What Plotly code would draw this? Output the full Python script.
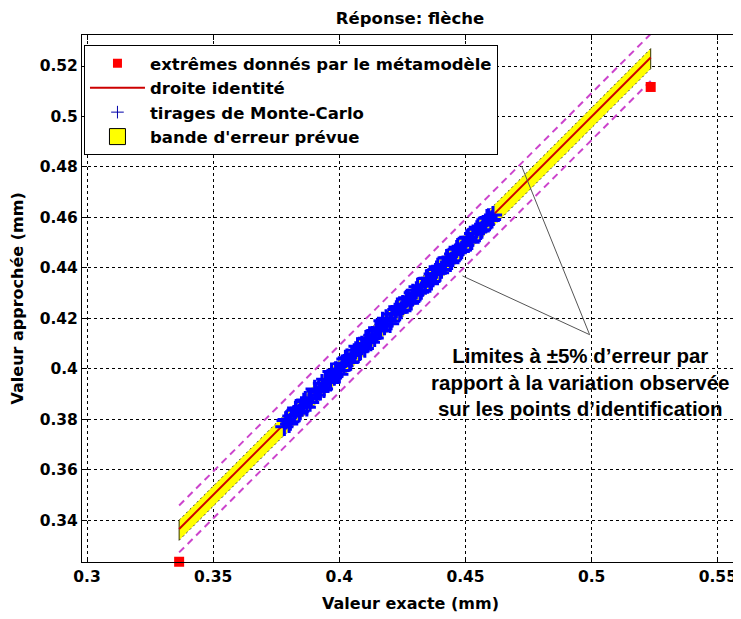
import plotly.graph_objects as go

# ---- data ----
extreme_x = [0.3365, 0.5234]
extreme_y = [0.3235, 0.5117]

ident_x = [0.3365, 0.5234]
ident_y = [0.3365, 0.5234]

band_x = [0.3365, 0.5234]
band_lo = [0.3320, 0.5189]
band_hi = [0.3400, 0.5269]

lim_x = [0.3365, 0.5234]
lim_lo = [0.3272, 0.5141]
lim_hi = [0.3458, 0.5327]

mc_x = [0.3782, 0.3791, 0.3801, 0.3810, 0.3822, 0.3829, 0.3841, 0.3850, 0.3859, 0.3871,
        0.3880, 0.3889, 0.3902, 0.3910, 0.3918, 0.3931, 0.3939, 0.3950, 0.3961, 0.3969,
        0.3980, 0.3992, 0.4000, 0.4011, 0.4019, 0.4030, 0.4041, 0.4049, 0.4060, 0.4072,
        0.4080, 0.4089, 0.4101, 0.4110, 0.4119, 0.4131, 0.4140, 0.4150, 0.4158, 0.4171,
        0.4179, 0.4190, 0.4201, 0.4209, 0.4221, 0.4230, 0.4239, 0.4251, 0.4260, 0.4269,
        0.4280, 0.4291, 0.4300, 0.4310, 0.4320, 0.4329, 0.4341, 0.4350, 0.4359, 0.4370,
        0.4381, 0.4390, 0.4399, 0.4411, 0.4420, 0.4429, 0.4440, 0.4451, 0.4460, 0.4469,
        0.4481, 0.4490, 0.4499, 0.4511, 0.4520, 0.4530, 0.4541, 0.4549, 0.4560, 0.4570,
        0.4580, 0.4591, 0.4600, 0.4609,
        0.3787, 0.3806, 0.3826, 0.3845, 0.3865, 0.3884, 0.3906, 0.3925, 0.3944, 0.3965,
        0.3985, 0.4005, 0.4024, 0.4045, 0.4065, 0.4084, 0.4105, 0.4125, 0.4145, 0.4164,
        0.4185, 0.4205, 0.4226, 0.4245, 0.4265, 0.4285, 0.4305, 0.4325, 0.4345, 0.4365,
        0.4385, 0.4405, 0.4425, 0.4445, 0.4465, 0.4485, 0.4505, 0.4525, 0.4545, 0.4565,
        0.4585, 0.4605]
mc_y = [0.3770, 0.3799, 0.3781, 0.3813, 0.3816, 0.3844, 0.3824, 0.3850, 0.3869, 0.3847,
        0.3885, 0.3880, 0.3920, 0.3896, 0.3916, 0.3943, 0.3920, 0.3957, 0.3957, 0.3989,
        0.3969, 0.3993, 0.3978, 0.4020, 0.4012, 0.4044, 0.4025, 0.4053, 0.4059, 0.4089,
        0.4067, 0.4095, 0.4080, 0.4121, 0.4114, 0.4133, 0.4122, 0.4163, 0.4150, 0.4190,
        0.4169, 0.4193, 0.4178, 0.4217, 0.4218, 0.4246, 0.4224, 0.4256, 0.4254, 0.4281,
        0.4260, 0.4301, 0.4291, 0.4325, 0.4303, 0.4329, 0.4329, 0.4359, 0.4337, 0.4376,
        0.4377, 0.4404, 0.4381, 0.4413, 0.4409, 0.4440, 0.4420, 0.4455, 0.4453, 0.4482,
        0.4465, 0.4491, 0.4490, 0.4521, 0.4501, 0.4536, 0.4536, 0.4561, 0.4546, 0.4573,
        0.4572, 0.4600, 0.4588, 0.4609,
        0.3795, 0.3790, 0.3836, 0.3832, 0.3876, 0.3866, 0.3912, 0.3910, 0.3958, 0.3946,
        0.3994, 0.3993, 0.4039, 0.4028, 0.4073, 0.4070, 0.4118, 0.4105, 0.4152, 0.4152,
        0.4200, 0.4189, 0.4235, 0.4232, 0.4276, 0.4267, 0.4311, 0.4310, 0.4358, 0.4346,
        0.4393, 0.4393, 0.4439, 0.4428, 0.4474, 0.4471, 0.4517, 0.4507, 0.4553, 0.4551,
        0.4597, 0.4592]

x_ticks = [0.3, 0.35, 0.4, 0.45, 0.5, 0.55]
x_tick_labels = ["0.3", "0.35", "0.4", "0.45", "0.5", "0.55"]
y_ticks = [0.34, 0.36, 0.38, 0.40, 0.42, 0.44, 0.46, 0.48, 0.50, 0.52]
y_tick_labels = ["0.34", "0.36", "0.38", "0.4", "0.42", "0.44", "0.46", "0.48", "0.5", "0.52"]

# annotation pointer lines: vertex and two ends
pointer_vertex = (0.4992, 0.4135)
pointer_ends_x = [0.4722, 0.4488]
pointer_ends_y = [0.4804, 0.4368]
note_pos = (0.4956, 0.3949)
note_text = ("Limites à ±5% d’erreur par<br>rapport à la variation observée"
             "<br>sur les points d’identification")

MFONT = "DejaVu Sans, sans-serif"
AFONT = "Liberation Sans, Arial, sans-serif"

fig = go.Figure()

# yellow band (no legend)
fig.add_trace(go.Scatter(
    x=band_x + band_x[::-1], y=band_lo + band_hi[::-1],
    fill="toself", fillcolor="#ffff00", mode="lines",
    line=dict(color="#ffff00", width=0), showlegend=False, hoverinfo="skip"))
for edge in (band_lo, band_hi):
    fig.add_trace(go.Scatter(x=band_x, y=edge, mode="lines",
                             line=dict(color="#444444", width=1, dash="2px,3px"),
                             showlegend=False, hoverinfo="skip"))
for i in (0, 1):
    fig.add_trace(go.Scatter(x=[band_x[i], band_x[i]], y=[band_lo[i], band_hi[i]],
                             mode="lines", line=dict(color="#333300", width=1),
                             showlegend=False, hoverinfo="skip"))

# magenta limits
for lim in (lim_lo, lim_hi):
    fig.add_trace(go.Scatter(x=lim_x, y=lim, mode="lines",
                             line=dict(color="#cc44cc", width=2, dash="7px,5px"),
                             showlegend=False, hoverinfo="skip"))

# identity line
fig.add_trace(go.Scatter(x=ident_x, y=ident_y, mode="lines",
                         line=dict(color="#cc0000", width=2), showlegend=False))

# Monte-Carlo (drawn over the identity line)
fig.add_trace(go.Scatter(x=mc_x, y=mc_y, mode="markers",
                         marker=dict(symbol="cross-thin-open", size=13, color="#0000ff",
                                     line=dict(color="#0000ff", width=3)),
                         showlegend=False))

# extremes
fig.add_trace(go.Scatter(x=extreme_x, y=extreme_y, mode="markers",
                         marker=dict(symbol="square", size=10, color="#ff0000"),
                         showlegend=False, cliponaxis=False))

# legend entries
fig.add_trace(go.Scatter(x=[None], y=[None], mode="markers", name="extrêmes donnés par le métamodèle",
                         marker=dict(symbol="square", size=9, color="#ff0000")))
fig.add_trace(go.Scatter(x=[None], y=[None], mode="lines", name="droite identité",
                         line=dict(color="#cc0000", width=2)))
fig.add_trace(go.Scatter(x=[None], y=[None], mode="markers", name="tirages de Monte-Carlo",
                         marker=dict(symbol="cross-thin-open", size=9, color="#0000aa",
                                     line=dict(color="#0000aa", width=1))))
fig.add_trace(go.Scatter(x=[None], y=[None], mode="markers", name="bande d'erreur prévue",
                         marker=dict(symbol="square", size=18, color="#ffff00",
                                     line=dict(color="#000000", width=1))))

shapes = []
for ex, ey in zip(pointer_ends_x, pointer_ends_y):
    shapes.append(dict(type="line", xref="x", yref="y",
                       x0=pointer_vertex[0], y0=pointer_vertex[1], x1=ex, y1=ey,
                       line=dict(color="#555555", width=1)))

# the page body adds an 8px offset; figure size and margins compensate for it
fig.update_layout(
    width=733, height=611,
    margin=dict(l=74, r=3, t=27, b=57),
    paper_bgcolor="white", plot_bgcolor="white",
    font=dict(family=MFONT, size=15, color="black"),
    title=dict(text="<b>Réponse: flèche</b>", x=0.5, xref="paper", xanchor="center",
               y=0.983, yref="container", yanchor="middle", font=dict(size=16.5, family=MFONT)),
    showlegend=True,
    legend=dict(x=0.003, y=0.981, xanchor="left", yanchor="top",
                bgcolor="white", bordercolor="black", borderwidth=1,
                font=dict(size=16.5, family=MFONT, weight="bold"),
                tracegroupgap=0, itemwidth=55),
    shapes=shapes,
    annotations=[
        dict(x=note_pos[0], y=note_pos[1], xref="x", yref="y",
             text="<b>" + note_text + "</b>", showarrow=False,
             font=dict(size=20.5, family=AFONT), align="center",
             xanchor="center", yanchor="middle"),
        dict(x=0.5, y=-0.0778, xref="paper", yref="paper", showarrow=False,
             text="<b>Valeur exacte (mm)</b>", font=dict(size=16, family=MFONT),
             xanchor="center", yanchor="middle"),
        dict(x=-0.0976, y=0.5, xref="paper", yref="paper", showarrow=False,
             text="<b>Valeur approchée (mm)</b>", font=dict(size=16, family=MFONT),
             textangle=-90, xanchor="center", yanchor="middle"),
    ],
)

fig.update_xaxes(range=[0.298, 0.558], tickvals=x_ticks, ticktext=x_tick_labels,
                 automargin=False,
                 showgrid=True, gridcolor="black", griddash="3px,3px", gridwidth=1,
                 showline=True, linecolor="black", linewidth=1, mirror="ticks",
                 ticks="inside", ticklen=5, tickcolor="black",
                 tickfont=dict(size=15.5, family=MFONT, weight="bold"), zeroline=False)
fig.update_yaxes(range=[0.3234, 0.5323], tickvals=y_ticks, ticktext=y_tick_labels,
                 automargin=False,
                 showgrid=True, gridcolor="black", griddash="3px,3px", gridwidth=1,
                 showline=True, linecolor="black", linewidth=1, mirror="ticks",
                 ticks="inside", ticklen=5, tickcolor="black",
                 tickfont=dict(size=15.5, family=MFONT, weight="bold"), zeroline=False)

fig.write_html("out.html")
